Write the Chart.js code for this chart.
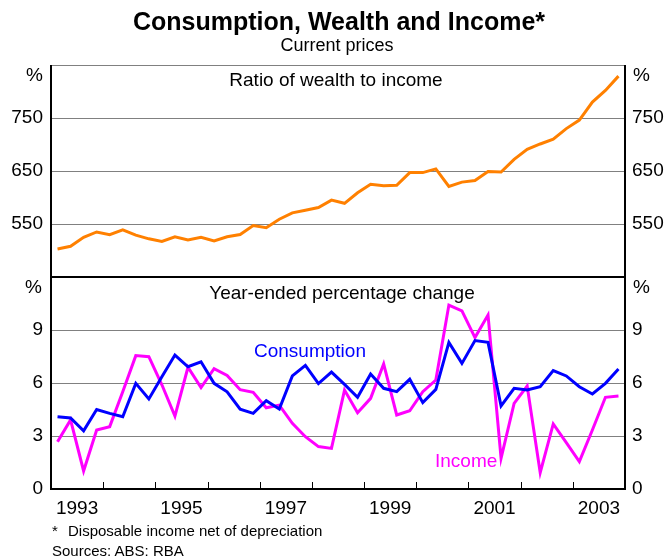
<!DOCTYPE html>
<html>
<head>
<meta charset="utf-8">
<script src="https://cdn.jsdelivr.net/npm/chart.js@4.4.1/dist/chart.umd.min.js"></script>
<style>
  body { margin: 0; background: #fff; }
  #wrap { position: relative; width: 666px; height: 557px; font-family: "Liberation Sans", Arial, sans-serif; color: #000; }
  #wrap canvas { position: absolute; left: 0; top: 0; }
  .t { position: absolute; white-space: nowrap; line-height: 1; }
  .c { transform: translateX(-50%); }
</style>
</head>
<body>
<div id="wrap">
  <canvas id="chart" width="666" height="557"></canvas>
  <div class="t c" style="left:339px;top:9px;font-size:25px;font-weight:bold;">Consumption, Wealth and Income*</div>
  <div class="t c" style="left:337px;top:36px;font-size:18px;">Current prices</div>
  <div class="t c" style="left:336px;top:70px;font-size:19px;">Ratio of wealth to income</div>
  <div class="t c" style="left:342px;top:283px;font-size:19px;">Year-ended percentage change</div>
  <div class="t" style="left:254px;top:341px;font-size:19px;color:#0000ff;">Consumption</div>
  <div class="t" style="left:435px;top:451px;font-size:19px;color:#ff00ff;">Income</div>
  <div class="t" style="right:623px;top:65px;font-size:19px;">%</div>
  <div class="t" style="left:633px;top:65px;font-size:19px;">%</div>
  <div class="t" style="right:624px;top:277px;font-size:19px;">%</div>
  <div class="t" style="left:633px;top:277px;font-size:19px;">%</div>
  <div class="t" style="left:52px;top:523px;font-size:15px;">*</div>
  <div class="t" style="left:68px;top:523px;font-size:15px;">Disposable income net of depreciation</div>
  <div class="t" style="left:52px;top:543px;font-size:15px;">Sources: ABS: RBA</div>
</div>
<script>
// quarterly data, Mar-1993 to Dec-2003
const years = ['1993', '1994', '1995', '1996', '1997', '1998', '1999', '2000', '2001', '2002', '2003'];
const quarters = years.flatMap(y => ['Q1', 'Q2', 'Q3', 'Q4'].map(q => q + ' ' + y));

const wealthRatio = [503, 508, 525, 535, 530, 539, 529, 522, 517, 526, 520, 525,
  518, 526, 530, 547, 543, 559, 571, 576, 581, 595, 589, 609,
  625, 622, 623, 647, 647, 654, 621, 629, 632, 649, 648, 672,
  691, 701, 710, 730, 746, 780, 802, 829];

const consumption = [4.09, 4.02, 3.29, 4.50, 4.28, 4.09, 5.98, 5.10, 6.35, 7.58, 6.92, 7.20,
  5.98, 5.50, 4.52, 4.28, 5.00, 4.53, 6.40, 7.00, 5.97, 6.62, 5.92, 5.19,
  6.51, 5.70, 5.51, 6.21, 4.89, 5.64, 8.30, 7.11, 8.40, 8.30, 4.70, 5.70,
  5.60, 5.79, 6.70, 6.40, 5.79, 5.38, 5.98, 6.79];

const income = [2.68, 3.91, 1.02, 3.34, 3.53, 5.50, 7.55, 7.49, 5.90, 4.13, 6.89, 5.74,
  6.81, 6.43, 5.62, 5.47, 4.60, 4.75, 3.72, 2.96, 2.40, 2.30, 5.60, 4.32,
  5.13, 7.08, 4.19, 4.43, 5.51, 6.17, 10.41, 10.08, 8.57, 9.85, 1.74, 4.85,
  5.83, 0.92, 3.68, 2.62, 1.55, 3.34, 5.19, 5.26];

const wealthTicks = [550, 650, 750];
const growthTicks = [0, 3, 6, 9];
const yearLabels = ['1993', '1995', '1997', '1999', '2001', '2003'];

// x axis counts quarters from the start of 1993, points sit mid-quarter
const toPoints = arr => arr.map((v, i) => ({ x: i + 0.5, y: v }));
const yearPos = y => years.indexOf(y) * 4 + 2;

const frame = {
  id: 'frame',
  afterDraw(chart) {
    const { ctx, chartArea: a, scales } = chart;
    ctx.save();
    ctx.strokeStyle = '#808080';
    ctx.lineWidth = 1;
    ctx.beginPath();
    ctx.moveTo(a.left, a.top + 0.5);
    ctx.lineTo(a.right, a.top + 0.5);
    ctx.stroke();
    ctx.strokeStyle = '#000';
    ctx.lineWidth = 2;
    ctx.beginPath();
    ctx.moveTo(a.left, a.top);
    ctx.lineTo(a.left, a.bottom);
    ctx.lineTo(a.right, a.bottom);
    ctx.lineTo(a.right, a.top);
    const mid = scales.yBot.top;
    ctx.moveTo(a.left, mid);
    ctx.lineTo(a.right, mid);
    ctx.stroke();
    ctx.lineWidth = 1;
    ctx.beginPath();
    for (let i = 1; i < years.length; i++) {
      const px = Math.round(scales.x.getPixelForValue(i * 4)) + 0.5;
      ctx.moveTo(px, a.bottom);
      ctx.lineTo(px, a.bottom - 7);
    }
    ctx.stroke();
    ctx.restore();
  }
};

Chart.defaults.font.family = '"Liberation Sans", Arial, sans-serif';
Chart.defaults.font.size = 19;
Chart.defaults.color = '#000';

// top panel axes get the higher weight on the left so they are placed first
function yAxis(pos, min, max, tickVals, grid, top) {
  return {
    type: 'linear',
    position: pos,
    stack: pos,
    stackWeight: 1,
    weight: pos === 'left' ? (top ? 1 : 0) : (top ? 0 : 1),
    min: min,
    max: max,
    afterBuildTicks: s => { s.ticks = tickVals.map(v => ({ value: v })); },
    afterFit: s => { s.width = pos === 'left' ? 51 : 41; },
    border: { display: false },
    grid: grid ? { color: '#808080', lineWidth: 1, drawTicks: false } : { display: false, drawTicks: false },
    ticks: { padding: pos === 'left' ? 8 : 7 }
  };
}

const ctx = document.getElementById('chart');

new Chart(ctx, {
  type: 'line',
  data: {
    datasets: [{
      label: 'Ratio of wealth to income',
      data: toPoints(wealthRatio),
      yAxisID: 'yTop',
      borderColor: '#ff8000',
      borderWidth: 3,
      pointRadius: 0,
      tension: 0
    }, {
      label: 'Consumption',
      data: toPoints(consumption),
      yAxisID: 'yBot',
      borderColor: '#0000ff',
      borderWidth: 3,
      pointRadius: 0,
      tension: 0
    }, {
      label: 'Income',
      data: toPoints(income),
      yAxisID: 'yBot',
      borderColor: '#ff00ff',
      borderWidth: 3,
      pointRadius: 0,
      tension: 0
    }]
  },
  options: {
    responsive: false,
    animation: false,
    layout: { padding: { top: 65, left: 0, right: 0, bottom: 0 } },
    plugins: {
      legend: { display: false },
      tooltip: { enabled: false }
    },
    scales: {
      x: {
        type: 'linear',
        min: 0,
        max: quarters.length,
        afterBuildTicks: s => { s.ticks = yearLabels.map(y => ({ value: yearPos(y) })); },
        afterFit: s => { s.height = 68; },
        border: { display: false },
        grid: { display: false, drawTicks: false },
        ticks: {
          padding: 8,
          autoSkip: false,
          maxRotation: 0,
          callback: v => yearLabels.find(y => yearPos(y) === v)
        }
      },
      yTop: yAxis('left', 450, 850, wealthTicks, true, true),
      yBot: yAxis('left', 0, 12, growthTicks, true, false),
      yTopR: yAxis('right', 450, 850, wealthTicks, false, true),
      yBotR: yAxis('right', 0, 12, growthTicks, false, false)
    }
  },
  plugins: [frame]
});
</script>
</body>
</html>
